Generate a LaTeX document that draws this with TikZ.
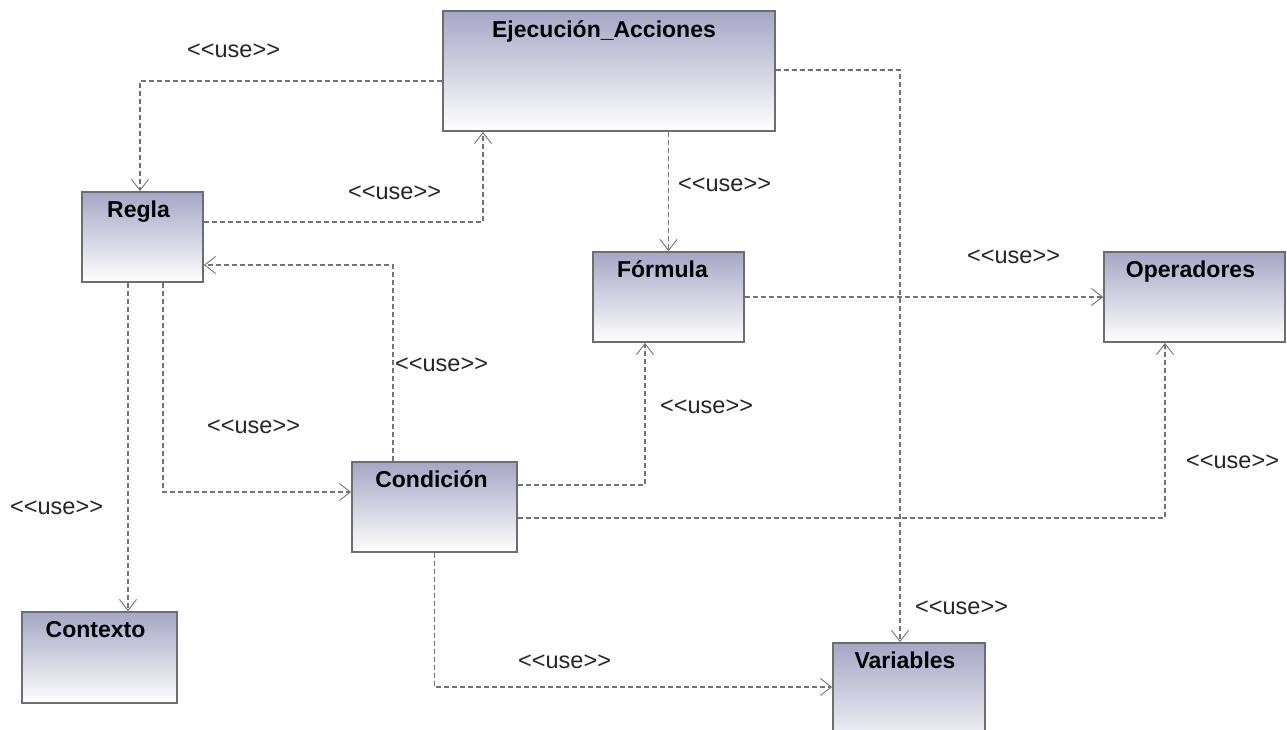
\documentclass[tikz,border=0pt]{standalone}
\usepackage{fontspec}
\setmainfont{Liberation Sans}
\usetikzlibrary{arrows.meta}
\definecolor{linegray}{RGB}{115,115,115}
\definecolor{edgegray}{RGB}{110,110,110}
\definecolor{classtop}{RGB}{166,166,198}
% guillemet-free stereotype text: each angle bracket boxed on its own
\newcommand{\usestereo}{\mbox{<}\mbox{<}use\mbox{>}\mbox{>}}
\tikzset{
  classbox/.style={draw=edgegray, line width=1.8pt, rectangle, inner sep=0pt,
    shading=axis, top color=classtop, bottom color=white},
  classname/.style={anchor=base, inner sep=0pt, font=\fontsize{23}{27}\selectfont\bfseries},
  usetag/.style={anchor=mid west, inner sep=0pt, font=\fontsize{23.5}{27}\selectfont, text=black!85},
  dep/.style={draw=linegray, line width=1.4pt, dash pattern=on 5pt off 3pt,
    -{Straight Barb[length=11pt, width=17pt, line width=0.9pt]}}
}
\begin{document}
\begin{tikzpicture}[x=1pt, y=-1pt]
\useasboundingbox (0,0) rectangle (1287,729);
\fill[white] (0,0) rectangle (1287,729);
\clip (0,0) rectangle (1287,729);

% class boxes
\node[classbox, minimum width=332pt, minimum height=120pt] (ejec) at (609,71) {};
\node[classbox, minimum width=121pt, minimum height=90pt] (regla) at (142.5,237) {};
\node[classbox, minimum width=151pt, minimum height=90pt] (formula) at (668.5,297) {};
\node[classbox, minimum width=181pt, minimum height=90pt] (oper) at (1194.5,297) {};
\node[classbox, minimum width=165pt, minimum height=90pt] (cond) at (434.5,507) {};
\node[classbox, minimum width=155pt, minimum height=91pt] (ctx) at (99.5,657.5) {};
\node[classbox, minimum width=152pt, minimum height=114pt] (vars) at (909,700) {};

% class names
\node[classname] (ejecT) at ([xshift=-5pt, yshift=-27pt]ejec.north) {Ejecución\_Acciones};
\node[classname] (reglaT) at ([xshift=-4pt, yshift=-26pt]regla.north) {Regla};
\node[classname] (formulaT) at ([xshift=-6pt, yshift=-26pt]formula.north) {Fórmula};
\node[classname] (operT) at ([xshift=-4pt, yshift=-26pt]oper.north) {Operadores};
\node[classname] (condT) at ([xshift=-3pt, yshift=-26pt]cond.north) {Condición};
\node[classname] (ctxT) at ([xshift=-4pt, yshift=-26pt]ctx.north) {Contexto};
\node[classname] (varsT) at ([xshift=-4pt, yshift=-26pt]vars.north) {Variables};

% dependencies
\draw[dep] ([yshift=-10pt]ejec.west) -| ([xshift=-2.5pt]regla.north);
\draw[dep] ([yshift=15pt]regla.east) -| ([xshift=-126pt]ejec.south);
\draw[dep] (ejec.south -| formula.north) -- (formula.north);
\draw[dep] ([yshift=1pt]ejec.east) -| ([xshift=-9pt]vars.north);
\draw[dep] (formula.east) -- (formula.east -| oper.west);
\draw[dep] ([xshift=-41.5pt]cond.north) |- ([yshift=-28pt]regla.east);
\draw[dep] ([xshift=20.5pt]regla.south) |- ([yshift=15pt]cond.west);
\draw[dep] ([xshift=-14.5pt]regla.south) -- ([xshift=28.5pt]ctx.north);
\draw[dep] ([yshift=22pt]cond.east) -| ([xshift=-23.5pt]formula.south);
\draw[dep] ([yshift=-11pt]cond.east) -| ([xshift=-29.5pt]oper.south);
\draw[dep] (cond.south) |- ([yshift=13pt]vars.west);

% stereotype labels
\node[usetag] (u1) at (187,55) {\usestereo};
\node[usetag] (u2) at (348,197) {\usestereo};
\node[usetag] (u3) at (678,189) {\usestereo};
\node[usetag] (u4) at (967,261) {\usestereo};
\node[usetag] (u5) at (395,369) {\usestereo};
\node[usetag] (u6) at (207,431) {\usestereo};
\node[usetag] (u7) at (660,411) {\usestereo};
\node[usetag] (u8) at (1186,466) {\usestereo};
\node[usetag] (u9) at (10,512) {\usestereo};
\node[usetag] (u10) at (915,612) {\usestereo};
\node[usetag] (u11) at (518,666) {\usestereo};
\end{tikzpicture}
\end{document}
